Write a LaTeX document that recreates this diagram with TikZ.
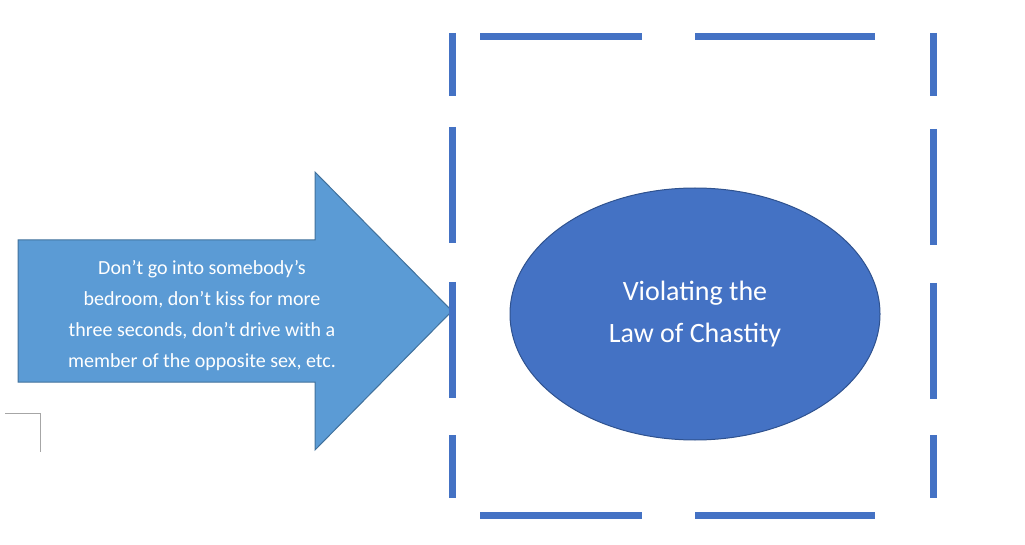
\documentclass[tikz,border=0pt]{standalone}
\usepackage{fontspec}
\setmainfont{Carlito}
\usetikzlibrary{shapes.geometric}
\definecolor{arrowfill}{HTML}{5B9BD5}
\definecolor{arrowline}{HTML}{41719C}
\definecolor{ellfill}{HTML}{4472C4}
\definecolor{ellline}{HTML}{2F528F}
\begin{document}
\begin{tikzpicture}[x=1pt,y=-1pt,
  dashseg/.style={draw=ellfill,line width=7pt},
  txt/.style={text=white,align=center}]
\useasboundingbox (0,0) rectangle (1025,545);
% corner mark
\coordinate (m1) at (5,413); \coordinate (m2) at (40,413); \coordinate (m3) at (40,452);
\draw[gray!70,line width=0.8pt] (m1) -- (m2) -- (m3);
% arrow
\draw[fill=arrowfill,draw=arrowline,line width=1pt] (18,240) -- (315,240) -- (315,172) -- (452,311) -- (315,450) -- (315,382) -- (18,382) -- cycle;
\node[txt,font=\fontsize{20}{31}\selectfont] (atext) at (202,316) {Don’t go into somebody’s\\bedroom, don’t kiss for more\\three seconds, don’t drive with a\\member of the opposite sex, etc.};
% ellipse
\node[ellipse,minimum width=370pt,minimum height=252pt,fill=ellfill,draw=ellline,line width=1pt,txt,font=\fontsize{28}{42}\selectfont,inner sep=0pt] (ell) at (695,314) {Violating the\\Law of Chastity};
% dashed box
\foreach \a/\b in {33/96,127/243,282/398,435/498}{\draw[dashseg] (452,\a) -- (452,\b);}
\foreach \a/\b in {33/96,129/245,283/399,435/498}{\draw[dashseg] (933,\a) -- (933,\b);}
\foreach \a/\b in {480/642,695/875}{\draw[dashseg] (\a,37) -- (\b,37); \draw[dashseg] (\a,515) -- (\b,515);}
\end{tikzpicture}
\end{document}
